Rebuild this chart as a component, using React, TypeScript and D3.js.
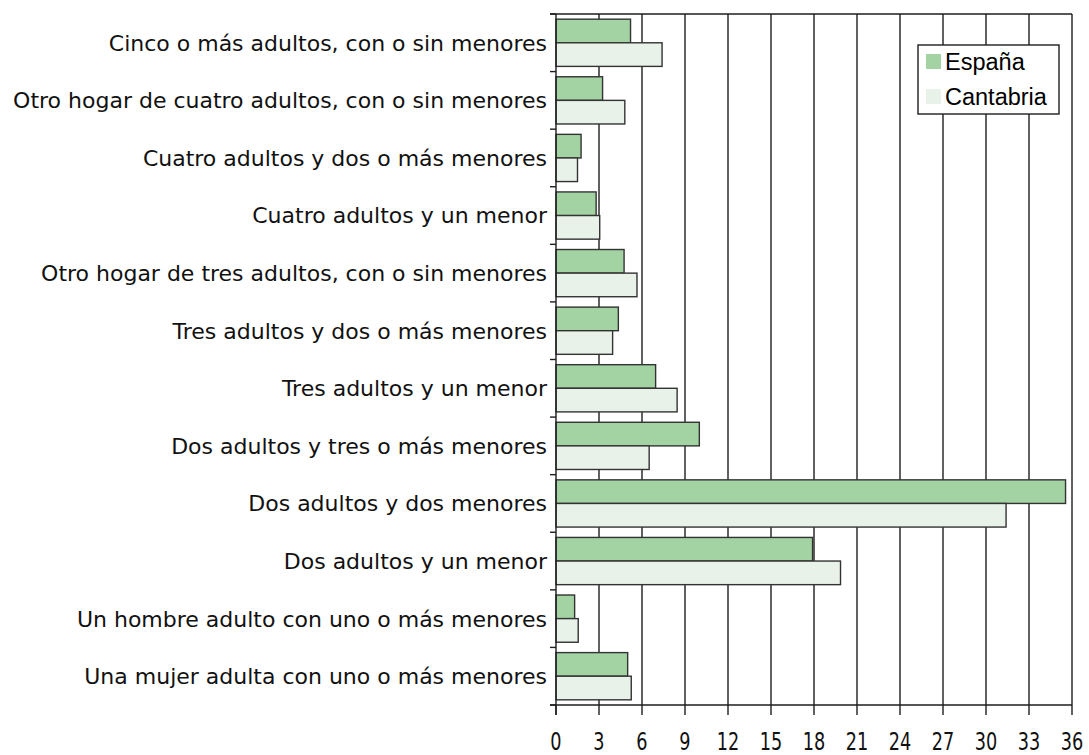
import { useRef, useEffect } from "react";
import * as d3 from "d3";

const categories = [
  "Cinco o más adultos, con o sin menores",
  "Otro hogar de cuatro adultos, con o sin menores",
  "Cuatro adultos y dos o más menores",
  "Cuatro adultos y un menor",
  "Otro hogar de tres adultos, con o sin menores",
  "Tres adultos y dos o más menores",
  "Tres adultos y un menor",
  "Dos adultos y tres o más menores",
  "Dos adultos y dos menores",
  "Dos adultos y un menor",
  "Un hombre adulto con uno o más menores",
  "Una mujer adulta con uno o más menores",
];

const espana = [5.2, 3.25, 1.75, 2.8, 4.75, 4.35, 6.95, 10.0, 35.55, 17.9, 1.3, 5.0];
const cantabria = [7.4, 4.8, 1.5, 3.05, 5.65, 3.95, 8.45, 6.5, 31.4, 19.85, 1.55, 5.25];

const seriesNames = ["España", "Cantabria"];
const seriesColors = ["#a3d3a3", "#e8f2e8"];
const xTicks = [0, 3, 6, 9, 12, 15, 18, 21, 24, 27, 30, 33, 36];

export default function App() {
  const svgRef = useRef<SVGSVGElement>(null);

  useEffect(() => {
    if (!svgRef.current) return;
    const width = 1089;
    const height = 755;
    const margin = { top: 14, right: 17, bottom: 50, left: 556 };
    const lineCol = "#1e1e1e";

    const svg = d3.select(svgRef.current);
    svg.selectAll("*").remove();

    const x = d3
      .scaleLinear()
      .domain([0, 36])
      .range([margin.left, width - margin.right]);

    const y = d3
      .scaleBand()
      .domain(categories)
      .range([margin.top, height - margin.bottom])
      .paddingInner(0.18)
      .paddingOuter(0.09);

    const ySub = d3.scaleBand().domain(seriesNames).range([0, y.bandwidth()]);

    const step = y.step();
    const plotTop = margin.top;
    const plotBottom = height - margin.bottom;

    // vertical gridlines
    svg
      .selectAll(".grid")
      .data(xTicks.slice(1))
      .enter()
      .append("line")
      .attr("x1", (d) => x(d))
      .attr("x2", (d) => x(d))
      .attr("y1", plotTop)
      .attr("y2", plotBottom)
      .attr("stroke", lineCol)
      .attr("stroke-width", 1.4);

    // bars
    const rows = categories.map((c, i) => ({ c, vals: [espana[i], cantabria[i]] }));
    const g = svg
      .selectAll(".row")
      .data(rows)
      .enter()
      .append("g")
      .attr("transform", (d) => `translate(0,${y(d.c)})`);

    g.selectAll("rect")
      .data((d) => d.vals.map((v, k) => ({ v, k })))
      .enter()
      .append("rect")
      .attr("x", x(0))
      .attr("y", (d) => ySub(seriesNames[d.k]) || 0)
      .attr("width", (d) => x(d.v) - x(0))
      .attr("height", ySub.bandwidth())
      .attr("fill", (d) => seriesColors[d.k])
      .attr("stroke", "#333")
      .attr("stroke-width", 1.4);

    // frame: top line, left axis, bottom axis
    svg
      .append("line")
      .attr("x1", x(0) - 6)
      .attr("x2", x(36))
      .attr("y1", plotTop)
      .attr("y2", plotTop)
      .attr("stroke", lineCol)
      .attr("stroke-width", 1.4);
    svg
      .append("line")
      .attr("x1", x(0))
      .attr("x2", x(0))
      .attr("y1", plotTop)
      .attr("y2", plotBottom + 10)
      .attr("stroke", lineCol)
      .attr("stroke-width", 1.4);
    svg
      .append("line")
      .attr("x1", x(0) - 6)
      .attr("x2", x(36))
      .attr("y1", plotBottom)
      .attr("y2", plotBottom)
      .attr("stroke", lineCol)
      .attr("stroke-width", 1.4);

    // category ticks
    svg
      .selectAll(".ctick")
      .data(d3.range(categories.length + 1))
      .enter()
      .append("line")
      .attr("x1", x(0) - 6)
      .attr("x2", x(0))
      .attr("y1", (i) => plotTop + i * step)
      .attr("y2", (i) => plotTop + i * step)
      .attr("stroke", lineCol)
      .attr("stroke-width", 1.4);

    // x ticks
    svg
      .selectAll(".xtick")
      .data(xTicks)
      .enter()
      .append("line")
      .attr("x1", (d) => x(d))
      .attr("x2", (d) => x(d))
      .attr("y1", plotBottom)
      .attr("y2", plotBottom + 10)
      .attr("stroke", lineCol)
      .attr("stroke-width", 1.4);

    svg
      .selectAll(".xlabel")
      .data(xTicks)
      .enter()
      .append("text")
      .attr("transform", (d) => `translate(${x(d)},${plotBottom + 45}) scale(0.82,1)`)
      .attr("text-anchor", "middle")
      .attr("font-family", "'DejaVu Sans Condensed', 'DejaVu Sans'")
      .attr("font-size", 24)
      .attr("fill", "#111")
      .text((d) => d);

    // category labels
    svg
      .selectAll(".clabel")
      .data(categories)
      .enter()
      .append("text")
      .attr("x", x(0) - 9)
      .attr("y", (d) => (y(d) || 0) + y.bandwidth() / 2)
      .attr("dy", "0.36em")
      .attr("text-anchor", "end")
      .attr("font-family", "'DejaVu Sans', sans-serif")
      .attr("font-size", 22)
      .attr("fill", "#111")
      .text((d) => d);

    // legend
    const lg = svg.append("g").attr("transform", "translate(918,45)");
    lg.append("rect")
      .attr("width", 141)
      .attr("height", 69)
      .attr("fill", "#fff")
      .attr("stroke", lineCol)
      .attr("stroke-width", 1.4);
    seriesNames.forEach((name, k) => {
      lg.append("rect")
        .attr("x", 8)
        .attr("y", 9 + k * 35)
        .attr("width", 15)
        .attr("height", 15)
        .attr("fill", seriesColors[k]);
      lg.append("text")
        .attr("x", 27)
        .attr("y", 25 + k * 35)
        .attr("font-family", "'Liberation Sans', Arial, sans-serif")
        .attr("font-size", 23.5)
        .attr("fill", "#000")
        .text(name);
    });
  }, []);

  return (
    <svg
      ref={svgRef}
      width={1089}
      height={755}
      viewBox="0 0 1089 755"
      style={{ position: "absolute", left: 0, top: 0, background: "#fff" }}
    />
  );
}
